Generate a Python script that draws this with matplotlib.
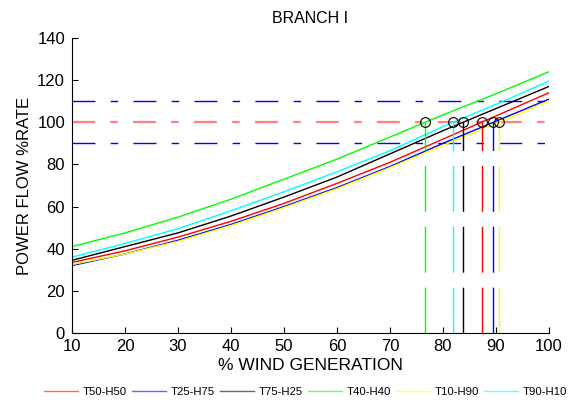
import matplotlib
matplotlib.use("Agg")
import matplotlib.pyplot as plt

plt.rcParams['font.family'] = ['Liberation Sans', 'DejaVu Sans']
plt.rcParams['lines.scale_dashes'] = False

# wind generation levels (%)
wind = [10, 20, 30, 40, 50, 60, 70, 80, 90, 100]

# power flow (% rating) per scenario
t50_h50 = [33.5, 39, 45.5, 53, 61.5, 71, 81, 92, 103, 114]
t25_h75 = [32, 37.5, 44, 51.5, 60, 69, 79, 90, 100.5, 111]
t75_h25 = [34.5, 41, 47.5, 55.5, 64.5, 74, 85, 96, 106.5, 117]
t40_h40 = [41, 47.5, 55, 63.5, 73, 82.5, 93, 103.5, 113.5, 124]
t10_h90 = [32.5, 37.5, 43.5, 51, 59.5, 68.5, 78.5, 89, 99.5, 110]
t90_h10 = [36, 42.5, 49.5, 58, 67, 76.5, 86.5, 98, 108.5, 119.5]

labels = ["T50-H50", "T25-H75", "T75-H25", "T40-H40", "T10-H90", "T90-H10"]
series = [t50_h50, t25_h75, t75_h25, t40_h40, t10_h90, t90_h10]
colors = ["#ff0000", "#0000ff", "#000000", "#00ff00", "#ffff00", "#00ffff"]

# wind level where each scenario reaches 100 % rating
cross_x = [87.3, 89.5, 83.8, 76.7, 90.5, 81.9]
limit = 100
band = [90, 110]

fig = plt.figure(figsize=(5.83, 4.03), dpi=100)
ax = fig.add_axes([0.1235, 0.1737, 0.818, 0.732])

dashdot = (0, (16.5, 11, 5.4, 11))
for b in band:
    ax.plot([wind[0], wind[-1]], [b, b], color="#0000ff", lw=1, linestyle=dashdot)
ax.plot([wind[0], wind[-1]], [limit, limit], color="#ff8080", lw=1.6, linestyle=dashdot)

lines = []
for ys, c, lab in zip(series, colors, labels):
    ln, = ax.plot(wind, ys, color=c, lw=1, label=lab)
    lines.append(ln)

for xc, c in zip(cross_x, colors):
    ax.plot([xc, xc], [0, limit], color=c, lw=1, linestyle=(0, (33, 10.8)))
    ax.plot(xc, limit, 'o', mfc='none', mec='black', ms=7, mew=0.8)

ax.set_xlim(10, 100)
ax.set_ylim(0, 140)
ax.set_xticks(range(10, 101, 10))
ax.set_yticks(range(0, 141, 20))
ax.tick_params(direction='in', length=4, labelsize=12, width=0.8)
ax.tick_params(axis='x', pad=4)
ax.tick_params(axis='y', pad=5)
ax.spines['top'].set_visible(False)
ax.spines['right'].set_visible(False)
ax.set_title("BRANCH I", fontsize=11.5, pad=11)
ax.set_xlabel("% WIND GENERATION", fontsize=12.5, labelpad=3)
ax.set_ylabel("POWER FLOW %RATE", fontsize=12)

leg = ax.legend(lines, labels, loc='center', bbox_to_anchor=(0.49, -0.2), ncol=6,
                frameon=False, fontsize=8.2, handlelength=3.0, handletextpad=0.4,
                columnspacing=0.45)
for h in leg.legend_handles:
    h.set_alpha(0.6)

fig.savefig("out.png", dpi=100)
